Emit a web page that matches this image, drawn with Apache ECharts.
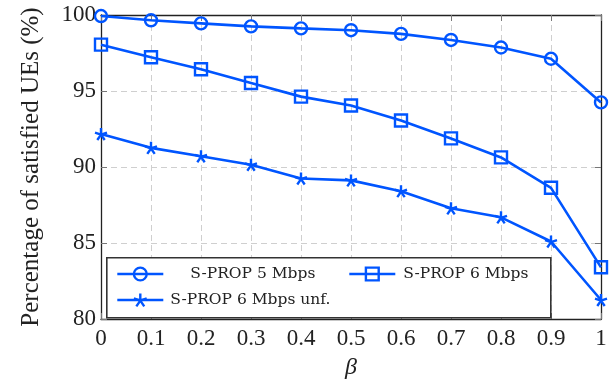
<!DOCTYPE html>
<html>
<head>
<meta charset="utf-8">
<script src="https://cdn.jsdelivr.net/npm/echarts@6/dist/echarts.min.js"></script>
<style>
html,body{margin:0;padding:0;background:#fff;}
#c{width:615px;height:385px;}
</style>
</head>
<body>
<div id="c"></div>
<script>
// ---- data ----
const betas = [0, 0.1, 0.2, 0.3, 0.4, 0.5, 0.6, 0.7, 0.8, 0.9, 1.0];
const sprop5 = [99.93, 99.65, 99.45, 99.25, 99.12, 99.0, 98.76, 98.36, 97.86, 97.12, 94.25];
const sprop6 = [98.05, 97.22, 96.43, 95.53, 94.63, 94.05, 93.06, 91.88, 90.63, 88.63, 83.4];
const sprop6unf = [92.17, 91.26, 90.71, 90.15, 89.24, 89.12, 88.41, 87.28, 86.69, 85.1, 81.25];
const seriesNames = ['S-PROP 5 Mbps', 'S-PROP 6 Mbps', 'S-PROP 6 Mbps unf.'];
const yTicks = {min: 80, max: 100, step: 5};
const xTicks = {min: 0, max: 1, step: 0.1};

const BLUE = '#0055ff';
const serif = '"Liberation Serif", "DejaVu Serif", serif';
const legendFont = '"DejaVu Serif", serif';
const starPath = 'path://M0 0 L0 -10 M0 0 L9.51 -3.09 M0 0 L5.88 8.09 M0 0 L-5.88 8.09 M0 0 L-9.51 -3.09';

const pair = (ys) => betas.map((b, i) => [b, ys[i]]);

const chart = echarts.init(document.getElementById('c'), null, {renderer: 'canvas'});

const gridLine = {show: true, lineStyle: {color: '#cfcfcf', type: [6, 4], width: 1}};
const tickIn = {show: true, inside: true, length: 6, lineStyle: {color: '#777', width: 1}};

function mkSeries(name, ys, symbol, size) {
  return {
    name, type: 'line', data: pair(ys),
    symbol, symbolSize: size,
    lineStyle: {color: BLUE, width: 2.6},
    itemStyle: {color: 'rgba(0,0,0,0)', borderColor: BLUE, borderWidth: 2.4},
    emphasis: {disabled: true},
    z: 5, animation: false
  };
}

function mkLegend(name, left, top, pad) {
  return {
    data: [name], left, top, orient: 'horizontal', padding: 0,
    itemWidth: 46, itemHeight: 16,
    selectedMode: false,
    lineStyle: {width: 2.6, color: BLUE},
    itemStyle: {color: 'rgba(0,0,0,0)', borderColor: BLUE, borderWidth: 2.4},
    textStyle: {fontFamily: legendFont, fontSize: 15.5, color: '#222', padding: [0, 0, 0, pad]},
    z: 10
  };
}

chart.setOption({
  animation: false,
  backgroundColor: '#fff',
  grid: {left: 101, right: 14, top: 15, bottom: 63, containLabel: false},
  xAxis: [{
    type: 'value', min: xTicks.min, max: xTicks.max, interval: xTicks.step,
    name: 'β', nameLocation: 'middle', nameGap: 37,
    nameTextStyle: {fontFamily: serif, fontSize: 24, fontStyle: 'italic', color: '#222'},
    axisLine: {show: true, onZero: false, lineStyle: {color: '#222', width: 1.3}},
    axisTick: tickIn,
    axisLabel: {fontFamily: serif, fontSize: 23, color: '#222', margin: 8},
    splitLine: gridLine
  }, {
    type: 'value', position: 'top', min: xTicks.min, max: xTicks.max, interval: xTicks.step,
    axisLine: {show: true, onZero: false, lineStyle: {color: '#222', width: 1.3}},
    axisTick: tickIn, axisLabel: {show: false}, splitLine: {show: false}
  }],
  yAxis: [{
    type: 'value', min: yTicks.min, max: yTicks.max, interval: yTicks.step,
    name: 'Percentage of satisfied UEs (%)', nameLocation: 'middle', nameGap: 57,
    nameTextStyle: {fontFamily: serif, fontSize: 25, color: '#222'},
    axisLine: {show: true, onZero: false, lineStyle: {color: '#222', width: 1.3}},
    axisTick: tickIn,
    axisLabel: {fontFamily: serif, fontSize: 23, color: '#222', margin: 5},
    splitLine: gridLine
  }, {
    type: 'value', position: 'right', min: yTicks.min, max: yTicks.max, interval: yTicks.step,
    axisLine: {show: true, onZero: false, lineStyle: {color: '#222', width: 1.3}},
    axisTick: tickIn, axisLabel: {show: false}, splitLine: {show: false}
  }],
  graphic: [{
    type: 'rect', left: 106, top: 257, z: 8,
    shape: {width: 444, height: 60},
    style: {fill: '#fff', stroke: '#333', lineWidth: 1.6}
  }],
  legend: [
    mkLegend(seriesNames[0], 116, 266, 22),
    mkLegend(seriesNames[1], 348, 266, 3),
    mkLegend(seriesNames[2], 116, 292, 2)
  ],
  series: [
    mkSeries(seriesNames[0], sprop5, 'circle', 12),
    mkSeries(seriesNames[1], sprop6, 'rect', 12),
    mkSeries(seriesNames[2], sprop6unf, starPath, 12)
  ]
});
</script>
</body>
</html>
